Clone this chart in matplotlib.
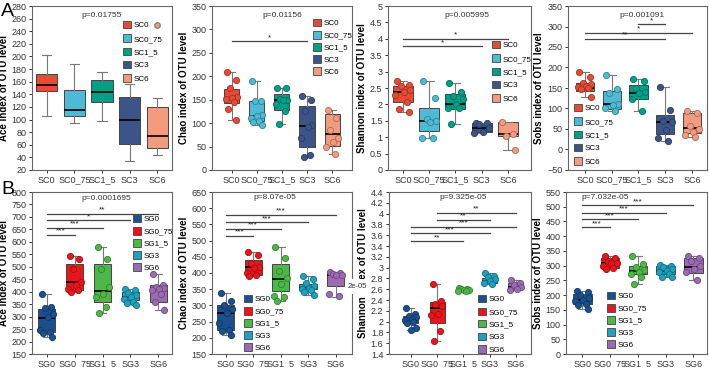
import numpy as np
import matplotlib.pyplot as plt

plt.rcParams['font.family'] = ['Liberation Sans', 'DejaVu Sans']

sc_groups = ['SC0', 'SC0_75', 'SC1_5', 'SC3', 'SC6']
sg_groups = ['SG0', 'SG0_75', 'SG1_5', 'SG3', 'SG6']
sc_colors = ['#E64B35', '#4DBBD5', '#00A087', '#3C5488', '#F39B7F']
sg_colors = ['#1B4F8F', '#E8161B', '#4DB848', '#1CA2C0', '#9B6BB2']

# box stats per group: [low whisker, q1, median, q3, high whisker]
ace_sc_box = [[105, 145, 154, 172, 203], [95, 105, 115, 147, 188], [98, 128, 143, 162, 175],
              [35, 61, 99, 135, 157], [43, 55, 74, 120, 134]]
ace_sc_out = [[], [], [], [], [250]]

chao_sc_box = [[106, 143, 153, 172, 209], [95, 105, 115, 148, 190], [98, 127, 150, 162, 176],
               [28, 50, 93, 137, 157], [35, 52, 76, 119, 128]]
chao_sc_pts = [[209, 192, 175, 155, 153, 152, 145, 130, 107],
               [190, 148, 147, 118, 115, 112, 105, 103, 95],
               [176, 174, 152, 150, 149, 140, 125, 98],
               [157, 150, 125, 96, 92, 68, 33, 28],
               [128, 110, 85, 68, 60, 50, 35]]

shannon_sc_box = [[1.78, 2.07, 2.37, 2.55, 2.72], [0.98, 1.2, 1.48, 1.88, 2.72], [1.4, 1.87, 2.02, 2.33, 2.65],
                  [1.12, 1.15, 1.28, 1.42, 1.42], [0.6, 1.05, 1.1, 1.45, 1.47]]
shannon_sc_pts = [[2.72, 2.58, 2.55, 2.45, 2.37, 2.3, 2.08, 1.85, 1.78],
                  [2.72, 2.2, 1.55, 1.5, 1.45, 0.98, 0.98],
                  [2.65, 2.38, 2.27, 2.15, 2.0, 1.9, 1.88, 1.4],
                  [1.42, 1.42, 1.4, 1.28, 1.15, 1.12],
                  [1.45, 1.1, 1.05, 0.6]]

sobs_sc_box = [[127, 143, 150, 163, 190], [93, 98, 110, 143, 182], [95, 122, 138, 157, 172],
               [20, 38, 68, 85, 152], [30, 40, 53, 90, 95]]
sobs_sc_pts = [[190, 178, 162, 160, 155, 152, 150, 148, 127],
               [182, 148, 138, 112, 108, 100, 93],
               [172, 166, 150, 140, 137, 122, 95],
               [152, 97, 70, 67, 48, 28, 20],
               [95, 88, 58, 50, 42, 36, 30]]

ace_sg_box = [[218, 240, 293, 330, 390], [400, 408, 437, 510, 545], [315, 360, 403, 512, 580],
              [350, 365, 378, 400, 412], [328, 358, 405, 425, 472]]
ace_sg_pts = [[390, 340, 335, 310, 300, 245, 240, 235, 218],
              [545, 530, 490, 440, 425, 410, 405, 400],
              [580, 532, 490, 417, 390, 380, 340, 315],
              [412, 405, 395, 385, 378, 370, 360, 355, 348],
              [472, 425, 420, 415, 410, 405, 390, 360, 328]]

chao_sg_box = [[210, 225, 277, 302, 337], [390, 395, 418, 440, 465], [315, 345, 383, 427, 480],
               [333, 350, 353, 365, 390], [327, 360, 395, 400, 402]]
chao_sg_pts = [[337, 315, 300, 290, 278, 245, 225, 220, 210],
               [465, 455, 430, 420, 415, 400, 395, 390],
               [480, 447, 405, 385, 365, 330, 325, 315],
               [390, 380, 370, 360, 355, 350, 348, 340, 333],
               [402, 400, 398, 395, 393, 335, 328]]

shannon_sg_box = [[1.85, 1.97, 2.05, 2.1, 2.25], [1.64, 1.98, 2.25, 2.37, 2.69], [2.55, 2.57, 2.59, 2.61, 2.62],
                  [2.7, 2.72, 2.76, 2.8, 2.9], [2.58, 2.6, 2.64, 2.72, 2.77]]
shannon_sg_pts = [[2.25, 2.15, 2.1, 2.08, 2.05, 2.03, 2.0, 1.98, 1.88, 1.85],
                  [2.69, 2.38, 2.33, 2.28, 2.15, 2.12, 1.83, 1.64],
                  [2.62, 2.61, 2.6, 2.59, 2.58, 2.57, 2.56],
                  [2.9, 2.85, 2.82, 2.78, 2.75, 2.72, 2.7],
                  [2.77, 2.72, 2.68, 2.64, 2.6, 2.58]]

sobs_sg_box = [[153, 170, 185, 203, 215], [290, 292, 310, 325, 333], [237, 270, 283, 300, 333],
               [260, 270, 283, 300, 302], [250, 275, 297, 325, 333]]
sobs_sg_pts = [[215, 210, 200, 190, 185, 180, 170, 165, 153],
               [333, 325, 315, 310, 308, 300, 292, 290],
               [333, 305, 295, 285, 280, 270, 262, 237],
               [302, 300, 295, 288, 283, 278, 270, 262, 260],
               [333, 325, 315, 300, 290, 280, 250]]

# significance bars: (group a, group b, y, label)
chao_sc_sig = [(0, 3, 275, '*')]
shannon_sc_sig = [(0, 4, 4.0, '*'), (0, 3, 3.78, '*')]
sobs_sc_sig = [(2, 3, 305, '*'), (0, 4, 285, '*'), (0, 3, 270, '**')]
ace_sg_sig = [(0, 4, 713, '**'), (0, 3, 686, '*'), (0, 2, 656, '***'), (0, 1, 628, '***')]
chao_sg_sig = [(0, 4, 580, '***'), (0, 3, 557, '***'), (0, 2, 537, '***'), (0, 1, 515, '***')]
shannon_sg_sig = [(1, 4, 4.02, '**'), (1, 3, 3.89, '**'), (0, 4, 3.76, '***'),
                  (0, 3, 3.64, '***'), (0, 2, 3.49, '**')]
sobs_sg_sig = [(0, 4, 505, '***'), (0, 3, 480, '***'), (0, 2, 457, '***'), (0, 1, 430, '***')]

W, H = 709, 368
fig = plt.figure(figsize=(W / 100, H / 100), dpi=100)

jit = np.array([-0.3, 0.28, -0.12, 0.36, 0.05, -0.38, 0.18, -0.22, 0.32, 0.0])

panels = [
    dict(box=ace_sc_box, pts=None, out=ace_sc_out, sig=[], g=sc_groups, c=sc_colors,
         yl='Ace index of OTU level', ylim=(20, 280), ystep=20, p='p=0.01755',
         pos=(32, 172, 6, 170), xlim=(0.47, 5.53), w=0.76, leg=(123, 21), ls=0.6, pt=(0.5, 0.945, 'center')),
    dict(box=chao_sc_box, pts=chao_sc_pts, out=None, sig=chao_sc_sig, g=sc_groups, c=sc_colors,
         yl='Chao index of OTU level', ylim=(0, 350), ystep=50, p='p=0.01156',
         pos=(212, 352, 6, 170), xlim=(0.22, 5.79), w=0.6, leg=(313, 19), ls=0.45, pt=(0.5, 0.945, 'center')),
    dict(box=shannon_sc_box, pts=shannon_sc_pts, out=None, sig=shannon_sc_sig, g=sc_groups, c=sc_colors,
         yl='Shannon index of OTU level', ylim=(0, 5), ystep=0.5, p='p=0.005995',
         pos=(388, 531, 6, 170), xlim=(0.43, 5.88), w=0.76, leg=(492, 41), ls=0.6, pt=(0.55, 0.945, 'center')),
    dict(box=sobs_sc_box, pts=sobs_sc_pts, out=None, sig=sobs_sc_sig, g=sc_groups, c=sc_colors,
         yl='Sobs index of OTU level', ylim=(-50, 350), ystep=50, p='p=0.001091',
         pos=(568, 707, 6, 170), xlim=(0.37, 5.56), w=0.68, leg=(574, 104), ls=0.6, pt=(0.53, 0.945, 'center')),
    dict(box=ace_sg_box, pts=ace_sg_pts, out=None, sig=ace_sg_sig, g=sg_groups, c=sg_colors,
         yl='Ace index of OTU level', ylim=(150, 800), ystep=50, p='p=0.0001695',
         pos=(32, 172, 192, 354), xlim=(0.47, 5.49), w=0.6, leg=(133, 215), ls=0.45, pt=(0.53, 0.96, 'center')),
    dict(box=chao_sg_box, pts=chao_sg_pts, out=None, sig=chao_sg_sig, g=sg_groups, c=sg_colors,
         yl='Chao index of OTU level', ylim=(150, 650), ystep=50, p='p=8.07e-05',
         pos=(212, 352, 192, 354), xlim=(0.5, 5.6), w=0.63, leg=(244, 295), ls=0.45, pt=(0.45, 0.965, 'center')),
    dict(box=shannon_sg_box, pts=shannon_sg_pts, out=None, sig=shannon_sg_sig, g=sg_groups, c=sg_colors,
         yl='Shannon index of OTU level', ylim=(1.4, 4.4), ystep=0.2, p='p=9.325e-05',
         pos=(389, 531, 192, 354), xlim=(0.17, 5.58), w=0.57, leg=(478, 295), ls=0.5, pt=(0.52, 0.965, 'center')),
    dict(box=sobs_sg_box, pts=sobs_sg_pts, out=None, sig=sobs_sg_sig, g=sg_groups, c=sg_colors,
         yl='Sobs index of OTU level', ylim=(0, 550), ystep=50, p='p=7.032e-05',
         pos=(566, 707, 192, 354), xlim=(0.41, 5.49), w=0.66, leg=(607, 292), ls=0.45, pt=(0.11, 0.965, 'left')),
]


def darker(col, f=0.7):
    r, g, b = [int(col[i:i + 2], 16) / 255 for i in (1, 3, 5)]
    return (r * f, g * f, b * f)


for k, pn in enumerate(panels):
    l, r, t, b = pn['pos']
    ax = fig.add_axes([l / W, 1 - b / H, (r - l) / W, (b - t) / H])
    xs = np.arange(1, 6)
    stats = []
    for i, s in enumerate(pn['box']):
        fl = pn['out'][i] if pn['out'] else []
        stats.append(dict(whislo=s[0], q1=s[1], med=s[2], q3=s[3], whishi=s[4], fliers=fl))
    bp = ax.bxp(stats, positions=xs, widths=pn['w'], patch_artist=True,
                capwidths=pn['w'] * 0.45,
                boxprops=dict(edgecolor='#444444', linewidth=0.7),
                whiskerprops=dict(color='#777777', linewidth=0.8),
                capprops=dict(color='#777777', linewidth=0.8),
                medianprops=dict(color='black', linewidth=1.2),
                flierprops=dict(marker='o', markersize=4, markeredgecolor='#888888'))
    for i, patch in enumerate(bp['boxes']):
        patch.set_facecolor(pn['c'][i])
    for i, fl in enumerate(bp['fliers']):
        fl.set_markerfacecolor(pn['c'][i])
    if pn['pts']:
        for i, vals in enumerate(pn['pts']):
            off = jit[:len(vals)] * pn['w']
            ax.scatter(xs[i] + off, vals, s=20, color=pn['c'][i],
                       edgecolor=darker(pn['c'][i]), linewidth=0.6, zorder=4)
    lo, hi = pn['ylim']
    for (a, bb, y, lab) in pn['sig']:
        ax.plot([xs[a], xs[bb]], [y, y], color='#444444', lw=0.9)
        ax.text((xs[a] + xs[bb]) / 2, y, lab, ha='center', va='bottom', fontsize=6, color='#222222')
    ax.set_ylim(lo, hi)
    ax.set_yticks(np.arange(lo, hi + pn['ystep'] / 2, pn['ystep']))
    if pn['ystep'] < 1:
        ax.set_yticklabels(['%g' % round(v, 2) for v in ax.get_yticks()])
    ax.set_xlim(*pn['xlim'])
    ax.set_xticks(xs)
    ax.set_xticklabels(pn['g'])
    ax.tick_params(labelsize=6.5, length=2.5, width=0.7, colors='#333333', pad=1.5)
    for sp in ax.spines.values():
        sp.set_color('#666666')
        sp.set_linewidth(0.8)
    ax.set_ylabel(pn['yl'], fontsize=7, fontweight='bold', labelpad=2)
    px, py, ha = pn['pt']
    ax.text(px, py, pn['p'], transform=ax.transAxes, ha=ha, va='center', fontsize=6, color='#333333')
    handles = [plt.Rectangle((0, 0), 1, 1, facecolor=c, edgecolor='#444444', linewidth=0.6) for c in pn['c']]
    lx, ly = pn['leg']
    ax.legend(handles, pn['g'], loc='upper left', bbox_to_anchor=(lx / W, 1 - ly / H),
              bbox_transform=fig.transFigure, frameon=False, fontsize=5.8,
              handlelength=1.05, handleheight=1.05, handletextpad=0.3,
              labelspacing=pn['ls'], borderpad=0, borderaxespad=0)

# offset label that hides part of the Shannon (SG) y label
fig.patches.append(plt.Rectangle((349 / W, 1 - 294 / H), 19 / W, 15 / H, transform=fig.transFigure,
                                 facecolor='white', edgecolor='none', zorder=2))
fig.text(357 / W, 1 - 286 / H, '2e-05', fontsize=5.5, ha='center', va='center', color='#333333', zorder=3)

fig.text(1 / W, 1 - 11 / H, 'A', fontsize=14, va='center', ha='left')
fig.text(1 / W, 1 - 189 / H, 'B', fontsize=14, va='center', ha='left')

fig.savefig('out.png', dpi=100)
